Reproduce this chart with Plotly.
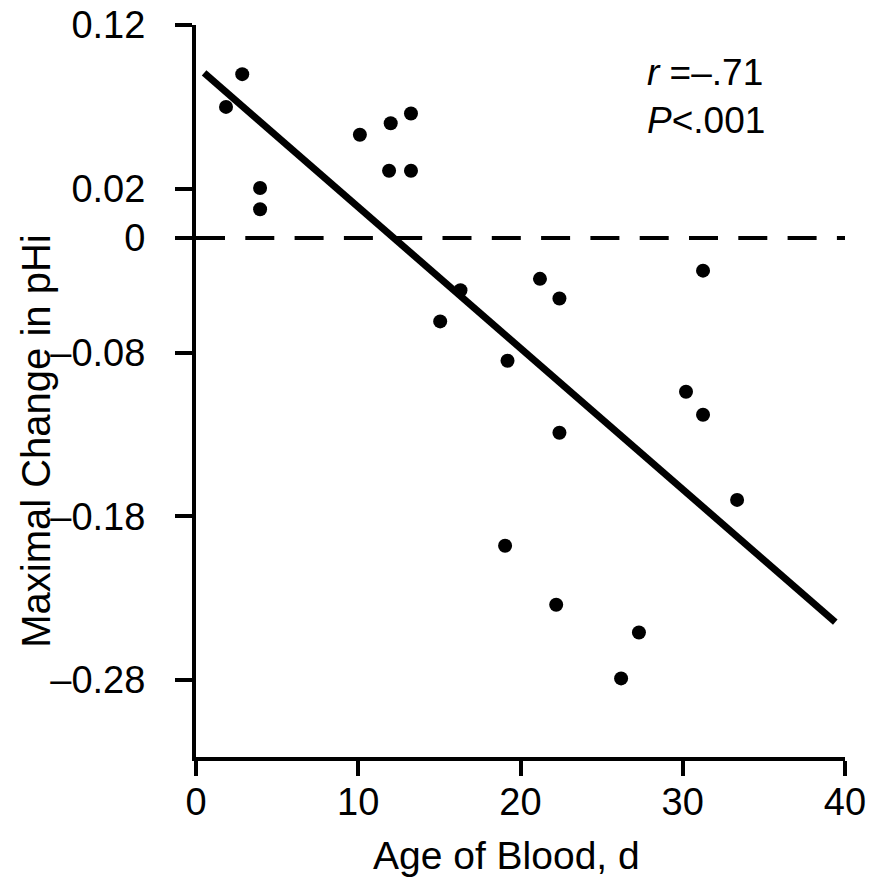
import plotly.graph_objects as go

# Data
age_days = [1.85, 2.85, 3.95, 3.95, 10.1, 12.0, 13.25, 11.9, 13.25,
            16.3, 15.05, 19.2, 21.2, 22.4, 22.4, 31.25, 30.2, 31.25,
            33.35, 19.05, 22.2, 27.3, 26.2]
max_change_phi = [0.070, 0.090, 0.0205, 0.0075, 0.053, 0.060, 0.066, 0.031, 0.031,
                  -0.042, -0.061, -0.085, -0.035, -0.047, -0.129, -0.030, -0.104, -0.118,
                  -0.170, -0.198, -0.234, -0.251, -0.279]

# Regression line end points
fit_x = [0.5, 39.4]
fit_y = [0.0907, -0.2446]

# Printed y axis: tick "0" (and its dashed reference line) sits where the picture puts it
ZERO_LINE_Y = -0.01
ytick_vals = [0.12, 0.02, ZERO_LINE_Y, -0.08, -0.18, -0.28]
ytick_text = ["0.12", "0.02", "0", "–0.08", "–0.18", "–0.28"]
xtick_vals = [0, 10, 20, 30, 40]
xtick_text = ["0", "10", "20", "30", "40"]

FONT = "Liberation Sans, Arial, Helvetica, sans-serif"

fig = go.Figure()
fig.add_trace(go.Scatter(x=[0, 40], y=[ZERO_LINE_Y, ZERO_LINE_Y], mode="lines",
                         line=dict(color="black", width=4, dash="29px,20.3px"),
                         showlegend=False, hoverinfo="skip"))
fig.add_trace(go.Scatter(x=fit_x, y=fit_y, mode="lines",
                         line=dict(color="black", width=7),
                         showlegend=False))
fig.add_trace(go.Scatter(x=age_days, y=max_change_phi, mode="markers",
                         marker=dict(color="black", size=14),
                         showlegend=False))

fig.update_layout(
    width=871, height=878,
    margin=dict(l=196, r=26, t=25, b=121),
    paper_bgcolor="white", plot_bgcolor="white",
    font=dict(family=FONT, color="black", size=38),
    xaxis=dict(range=[0, 40], tickvals=xtick_vals, ticktext=xtick_text,
               showgrid=False, zeroline=False, showline=True, linecolor="black",
               linewidth=4, ticks="outside", ticklen=15, tickwidth=4,
               tickcolor="black", tickfont=dict(size=38), automargin=False,
               ticklabelstandoff=-7),
    yaxis=dict(range=[-0.327, 0.12], tickvals=ytick_vals, ticktext=ytick_text,
               showgrid=False, zeroline=False, showline=True, linecolor="black",
               linewidth=4, ticks="outside", ticklen=17, tickwidth=4,
               tickcolor="black", tickfont=dict(size=38), automargin=False,
               ticklabelstandoff=22),
    annotations=[
        dict(xref="paper", yref="paper", x=0.692, y=0.966,
             xanchor="left", yanchor="top", align="left",
             text="<i>r</i> =–.71<br><i>P</i>&lt;.001",
             showarrow=False, font=dict(size=37)),
        dict(xref="paper", yref="paper", x=0.478, y=-0.134,
             xanchor="center", yanchor="middle",
             text="Age of Blood, d", showarrow=False, font=dict(size=39)),
        dict(xref="paper", yref="paper", x=-0.2465, y=0.432,
             xanchor="center", yanchor="middle", textangle=-90,
             text="Maximal Change in pHi", showarrow=False, font=dict(size=40)),
    ],
)

fig.write_html("out.html")
